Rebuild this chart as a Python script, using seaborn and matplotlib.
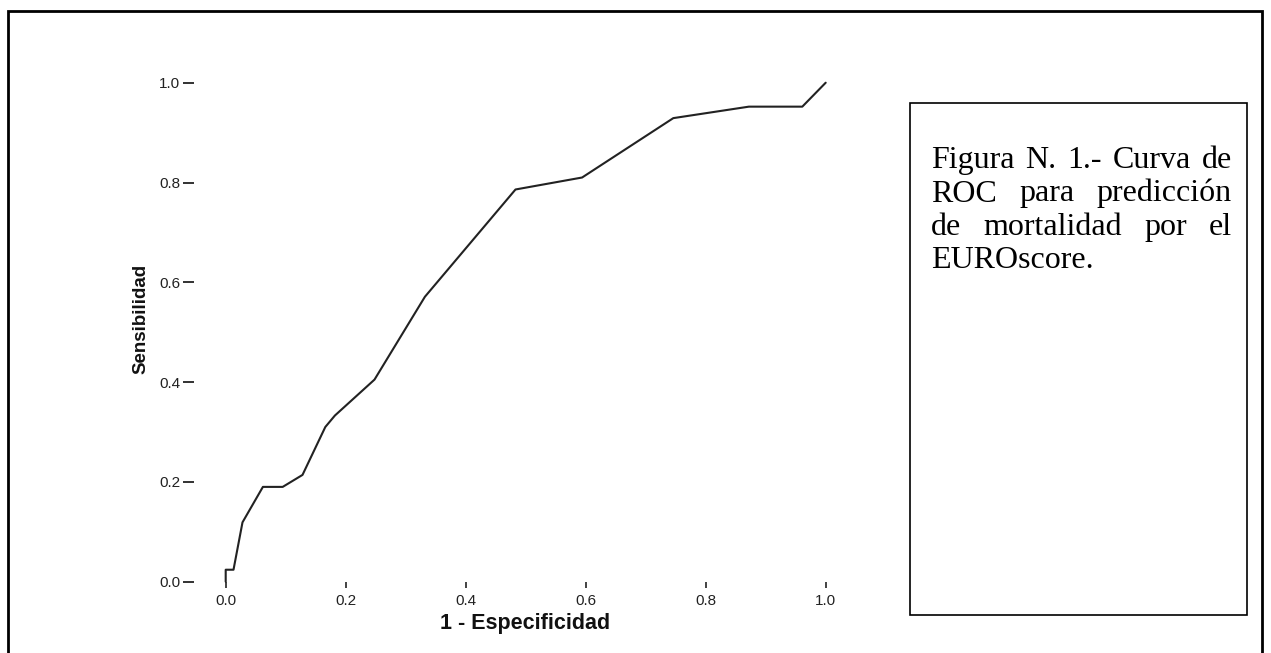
import matplotlib
matplotlib.use("Agg")
import matplotlib.pyplot as plt
import seaborn as sns
import pandas as pd
from matplotlib.patches import Rectangle

# ---- data ----
fpr = [0.0, 0.0, 0.013, 0.028, 0.062, 0.095, 0.128, 0.166, 0.182, 0.248,
       0.332, 0.483, 0.594, 0.746, 0.872, 0.961, 1.0]
tpr = [0.0, 0.024, 0.024, 0.119, 0.190, 0.190, 0.214, 0.310, 0.333, 0.405,
       0.571, 0.786, 0.810, 0.929, 0.952, 0.952, 1.0]
ticks = [0.0, 0.2, 0.4, 0.6, 0.8, 1.0]
tick_labels = ["0.0", "0.2", "0.4", "0.6", "0.8", "1.0"]
x_label = "1 - Especificidad"
y_label = "Sensibilidad"
caption_lines = [
    ["Figura", "N.", "1.-", "Curva", "de"],
    ["ROC", "para", "predicción"],
    ["de", "mortalidad", "por", "el"],
    ["EUROscore."],
]

sns.set_style("white")
plt.rcParams["font.family"] = ["Liberation Sans", "DejaVu Sans"]

W, H, DPI = 1271, 653, 100
fig = plt.figure(figsize=(W / DPI, H / DPI), dpi=DPI)

def fx(px):
    return px / W

def fy(py):
    return (H - py) / H

x0, x1 = 225.7, 825.7
y0, y1 = 581.7, 82.7
ax = fig.add_axes([fx(x0), fy(y0), fx(x1) - fx(x0), (y0 - y1) / H])

df = pd.DataFrame({"fpr": fpr, "tpr": tpr})
sns.lineplot(data=df, x="fpr", y="tpr", sort=False, estimator=None,
             color="#222222", linewidth=1.5, ax=ax, clip_on=False)

ax.set_xlim(0, 1)
ax.set_ylim(0, 1)
ax.set_xticks(ticks)
ax.set_xticklabels(tick_labels)
ax.set_yticks(ticks)
ax.set_yticklabels(tick_labels)
ax.set_xlabel("")
ax.set_ylabel("")
for s in ax.spines.values():
    s.set_visible(False)
ax.spines["left"].set_position(("outward", 31.7 * 72 / DPI))
ax.spines["bottom"].set_position(("outward", 6.3 * 72 / DPI))
ax.tick_params(axis="y", direction="out", length=11 * 72 / DPI, width=1.3,
               color="#222222", pad=2, labelsize=11, labelcolor="#222222",
               left=True)
ax.tick_params(axis="x", direction="in", length=6 * 72 / DPI, width=1.2,
               color="#222222", pad=4.5, labelsize=11, labelcolor="#222222",
               bottom=True)
ax.patch.set_alpha(0)

fig.text(fx(525.5), fy(624), x_label, ha="center", va="center",
         fontsize=15.5, fontweight="bold", color="#111111")
fig.text(fx(141), fy(319), y_label, ha="center", va="center", rotation=90,
         fontsize=13.5, fontweight="bold", color="#111111")

# outer frame
fig.patches.append(Rectangle((fx(8), fy(660)), fx(1262) - fx(8), fy(11) - fy(660),
                             transform=fig.transFigure, fill=False,
                             edgecolor="black", linewidth=2.0))
# caption box
fig.patches.append(Rectangle((fx(910), fy(615)), fx(1246.7) - fx(910), fy(103.3) - fy(615),
                             transform=fig.transFigure, fill=False,
                             edgecolor="black", linewidth=1.2))

# justified caption text
left_px, right_px = 931, 1232
baselines = [168, 201.5, 235, 268.5]
objs = []
for words, base in zip(caption_lines, baselines):
    row = []
    for w in words:
        t = fig.text(fx(left_px), fy(base), w, ha="left", va="baseline",
                     fontsize=23, family=["Liberation Serif", "DejaVu Serif"],
                     color="black")
        row.append(t)
    objs.append(row)

fig.canvas.draw()
renderer = fig.canvas.get_renderer()
for i, row in enumerate(objs):
    widths = [t.get_window_extent(renderer).width for t in row]
    base = baselines[i]
    if i < len(objs) - 1 and len(row) > 1:
        gap = (right_px - left_px - sum(widths)) / (len(row) - 1)
    else:
        gap = 8
    x = left_px
    for t, w in zip(row, widths):
        t.set_position((fx(x), fy(base)))
        x += w + gap

fig.savefig("out.png", dpi=DPI, facecolor="white")
